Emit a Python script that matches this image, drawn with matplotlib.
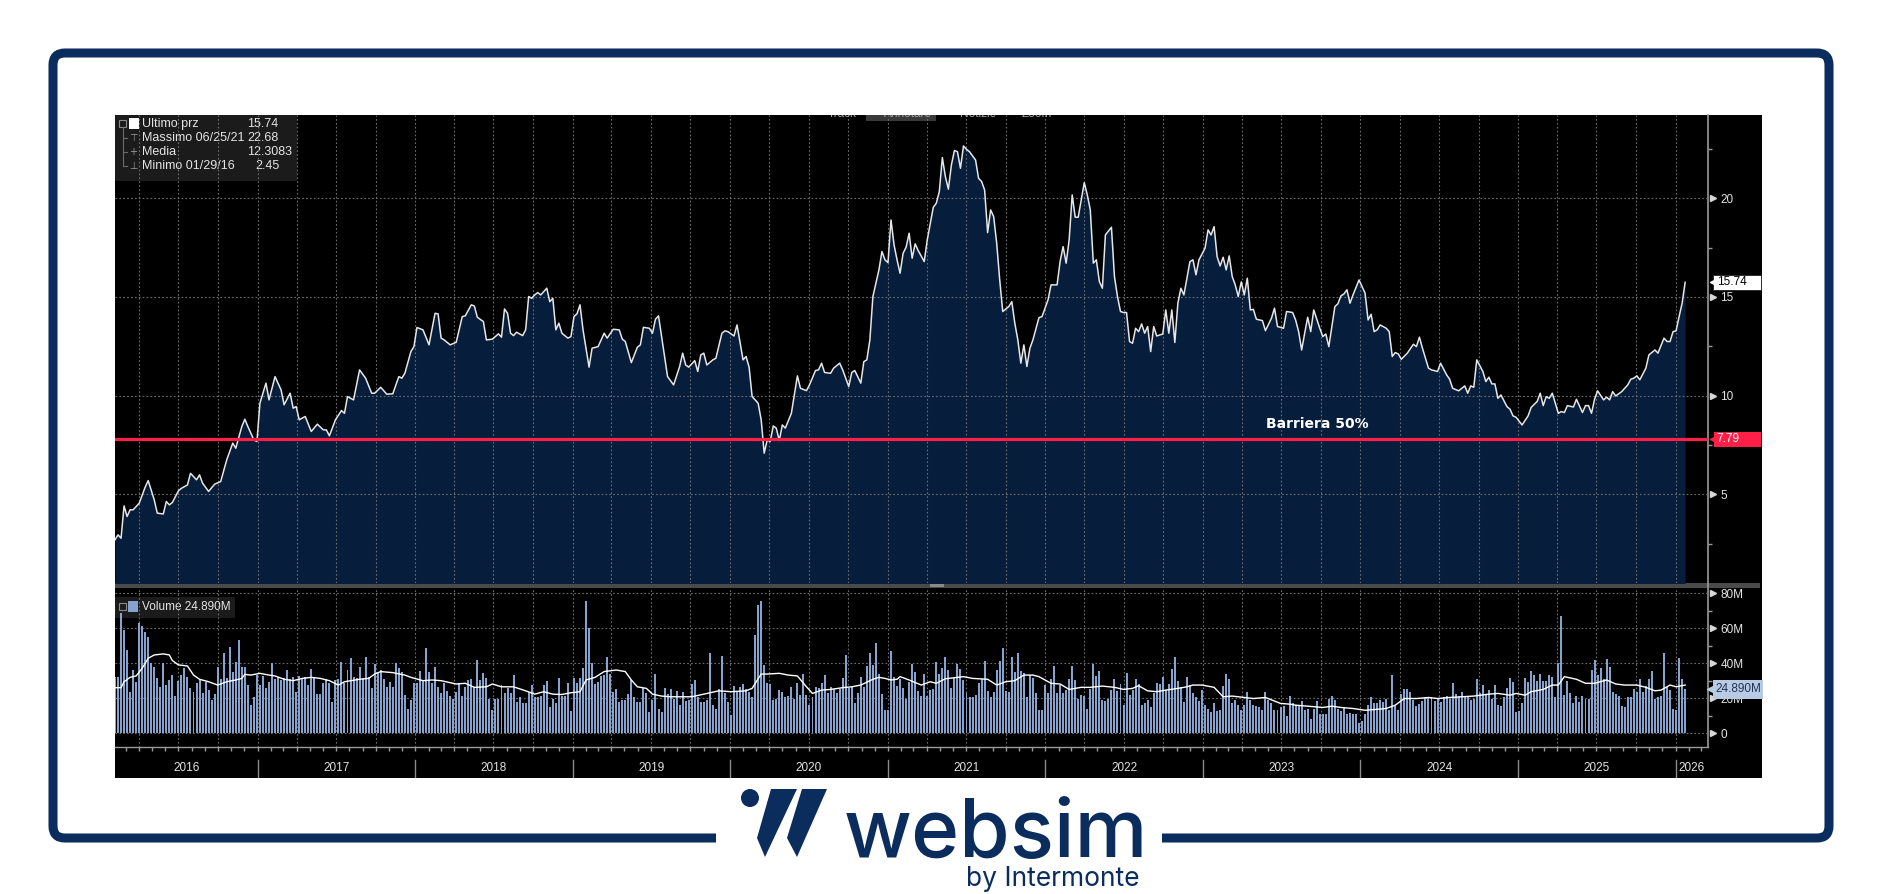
import numpy as np
import pandas as pd
import matplotlib
matplotlib.use("Agg")
import matplotlib.pyplot as plt
from matplotlib.patches import Rectangle, FancyBboxPatch, Polygon, Circle
from matplotlib.transforms import blended_transform_factory

plt.rcParams["font.family"] = ["Liberation Sans", "DejaVu Sans"]

START = pd.Timestamp("2016-02-05")   # weekly series, week 0

# price (weekly close): week index -> price
price_week = [0, 1, 2, 3, 4, 5, 6, 8, 10, 11, 13, 14, 16, 17, 18, 19, 21, 22, 24, 25, 27, 28, 29, 31, 33, 35, 37, 39, 40, 42,
              43, 44, 46, 47, 48, 50, 51, 53, 55, 56, 58, 59, 60, 61, 63, 65, 67, 69, 70, 71, 73, 75, 76, 77, 79, 81, 83, 85, 86, 88,
              90, 92, 94, 95, 96, 98, 99, 100, 102, 104, 106, 107, 108, 109, 111, 113, 115, 116, 118, 119, 120, 122, 123, 125, 127, 128, 129, 130, 131, 132,
              133, 135, 136, 137, 138,
              139, 140, 141, 143, 144, 145, 146, 147, 148, 150, 151, 152, 153, 154, 155, 157, 158, 160, 162, 163, 165, 167, 168, 169, 171, 173, 174, 175, 177, 178,
              179, 180, 183, 185, 187, 188, 189, 190, 192, 193, 194, 195, 196, 198, 199, 201, 202, 203, 205, 206, 208, 209, 210, 211, 213, 214, 215, 216, 217, 218,
              219, 220, 221, 222, 224, 226, 227, 229, 230, 232, 233, 234, 235, 237, 238, 240, 241, 243, 244, 245, 247, 248, 249, 250, 251, 253, 254, 255, 256, 257,
              258, 259, 260, 261, 262, 263, 264, 265, 266, 268, 269,
              271, 272, 273, 274, 275, 276, 277, 278, 279, 280, 281, 282, 283, 285, 286, 287, 288, 289, 290, 291, 292, 293, 294, 296, 297, 298, 299, 300, 301, 302,
              303, 304, 306, 307, 309, 310, 312, 313, 314, 315, 316, 317, 318, 319, 321, 322, 323, 324, 325, 326, 327, 328, 330, 331, 332, 333, 334, 335, 336, 337,
              338, 339, 340, 341, 342, 343, 344, 345, 347, 348, 349, 350, 351, 352, 353, 354, 356, 357, 358, 359, 361, 362, 363, 364, 365, 366, 367, 368, 369, 370,
              371, 372, 373, 374, 375, 376, 377, 378, 380, 381, 383, 384, 385, 387, 388, 390, 391, 392, 393, 394, 395, 396, 397, 399, 400, 401, 402, 404, 405, 406,
              407, 408, 409,
              410, 412, 414, 415, 416, 417, 418, 419, 421, 422, 423, 424, 425, 426, 428, 430, 431, 432, 433, 435, 436, 438, 439, 441, 442, 443, 445, 447, 448, 449,
              450, 451, 453, 454, 455, 456, 457, 458, 459, 461, 462, 463, 464, 466, 468, 469, 471, 472, 473, 474, 475, 476, 478, 479, 480, 481, 483, 484, 486, 487,
              488, 489, 490, 491, 493, 494, 495, 496, 497, 499, 501, 502, 503, 504, 505, 507, 508, 510, 511, 513, 514, 515, 516, 517, 518, 519, 520]
price_val = [2.69, 2.94, 2.77, 4.41, 3.87, 4.21, 4.21, 4.54, 5.36, 5.69, 4.71, 4.04, 4.00, 4.63, 4.46, 4.58, 5.17, 5.30, 5.47, 6.06, 5.73, 5.98, 5.56, 5.14, 5.51, 5.64, 6.74, 7.59, 7.33, 8.43,
             8.80, 8.43, 7.75, 7.67, 9.61, 10.63, 9.78, 10.96, 10.29, 9.53, 10.12, 9.36, 9.44, 8.77, 8.94, 8.18, 8.55, 8.26, 8.26, 7.96, 8.77, 9.24, 9.10, 9.95, 9.78, 11.30, 10.88, 10.12, 10.12, 10.42,
             10.07, 10.09, 10.96, 10.88, 11.13, 12.23, 12.48, 13.45, 13.33, 12.57, 14.17, 14.14, 12.91, 12.82, 12.57, 12.70, 14.00, 14.04, 14.60, 14.54, 13.97, 13.75, 12.82, 12.86, 13.13, 12.96, 14.39, 14.17, 13.16, 13.04,
             13.21, 13.04, 13.33, 15.02, 14.93,
             15.10, 15.22, 15.10, 15.44, 14.76, 14.93, 13.33, 13.67, 13.16, 12.91, 12.99, 14.00, 14.14, 14.60, 13.33, 11.44, 12.40, 12.48, 13.16, 12.91, 13.36, 13.33, 12.86, 12.74, 11.67, 12.45, 12.57, 13.46, 13.41, 13.16,
             13.87, 14.04, 10.96, 10.54, 11.47, 12.15, 11.55, 11.44, 11.77, 11.22, 12.06, 12.15, 11.55, 11.81, 11.89, 13.16, 13.28, 13.24, 13.02, 13.58, 11.81, 11.98, 11.44, 9.95, 9.61, 8.77, 7.08, 7.75, 7.67, 8.46,
             8.35, 7.72, 8.51, 8.35, 9.10, 11.00, 10.37, 10.25, 10.54, 11.27, 11.30, 11.64, 11.17, 11.13, 11.39, 11.64, 11.30, 10.46, 11.17, 11.27, 10.63, 11.72, 11.81, 12.82, 15.02, 16.37, 17.30, 16.88, 16.74, 18.90,
             17.64, 16.88, 16.20, 17.21, 17.52, 18.23, 16.96, 17.69, 17.35, 16.79, 17.89,
             19.54, 19.75, 20.34, 22.06, 21.10, 20.46, 21.69, 22.42, 22.36, 21.52, 22.65, 22.48, 22.36, 21.94, 21.01, 20.85, 20.42, 18.26, 19.41, 19.07, 17.72, 15.86, 14.26, 14.51, 14.76, 13.67, 12.82, 11.64, 12.57, 11.47,
             12.40, 12.82, 13.95, 14.00, 14.85, 15.61, 15.61, 16.79, 17.55, 16.71, 17.89, 20.17, 19.04, 19.04, 20.79, 20.17, 19.41, 16.71, 16.88, 15.78, 15.44, 18.14, 18.53, 16.03, 15.02, 14.26, 14.21, 14.21, 12.74, 12.65,
             13.41, 13.24, 13.63, 13.16, 13.50, 12.23, 13.50, 13.02, 13.12, 14.34, 13.16, 14.34, 12.69, 14.68, 15.44, 15.10, 16.79, 16.88, 16.12, 16.88, 17.47, 18.40, 18.14, 18.56, 17.04, 16.57, 17.01, 16.37, 17.08, 16.03,
             15.61, 15.02, 15.76, 15.10, 15.95, 14.34, 14.37, 13.87, 13.80, 13.29, 13.92, 14.43, 13.50, 13.41, 14.26, 14.21, 13.83, 13.24, 12.31, 13.16, 13.97, 13.24, 14.34, 13.41, 12.99, 13.12, 12.48, 14.51, 14.65, 15.05,
             15.15, 15.36, 14.68,
             15.10, 15.86, 15.19, 13.83, 14.12, 13.24, 13.33, 13.58, 13.41, 13.24, 11.98, 12.18, 12.11, 11.84, 12.15, 12.60, 12.48, 12.96, 12.40, 11.39, 11.30, 11.22, 11.64, 11.05, 10.83, 10.37, 10.24, 10.49, 10.12, 10.49,
             10.42, 11.81, 11.22, 10.71, 10.93, 10.59, 10.59, 9.86, 10.03, 9.44, 9.31, 8.97, 8.90, 8.51, 8.97, 9.40, 9.70, 10.12, 9.49, 9.95, 9.86, 10.12, 9.10, 9.19, 9.14, 9.49, 9.42, 9.81, 9.14, 9.49,
             9.49, 9.10, 9.81, 10.24, 9.78, 9.92, 9.78, 10.20, 9.98, 10.20, 10.54, 10.83, 10.88, 11.00, 10.80, 11.39, 12.06, 12.31, 12.15, 12.91, 12.74, 12.74, 13.24, 13.28, 14.00, 14.68, 15.74]

# weekly volume (millions), one bar per week from week 0
volume_m = [31.8, 31.8, 68.6, 59.0, 47.5, 23.6, 36.0, 29.3, 62.8, 60.9,
            57.5, 54.6, 40.2, 37.5, 31.2, 26.4, 40.2, 27.4, 30.3, 33.1,
            21.1, 29.9, 33.1, 37.0, 31.8, 25.5, 23.6, 28.4, 30.3, 22.6,
            29.3, 24.5, 18.8, 22.2, 37.5, 30.7, 46.0, 31.2, 49.4, 35.1,
            40.8, 53.3, 37.5, 37.5, 27.4, 15.9, 20.7, 33.1, 27.4, 32.6,
            25.5, 29.3, 40.2, 30.7, 32.2, 30.3, 31.2, 36.0, 30.7, 31.8,
            23.6, 32.6, 30.7, 32.2, 27.4, 36.4, 31.2, 22.2, 22.2, 28.7,
            30.7, 28.7, 17.8, 30.3, 30.7, 40.8, 28.7, 36.0, 42.7, 32.2,
            31.2, 37.9, 31.2, 43.3, 32.2, 25.5, 39.5, 34.1, 36.0, 30.7,
            26.4, 29.3, 26.1, 40.2, 37.0, 35.1, 21.6, 14.0, 18.8, 28.4,
            28.4, 35.6, 30.3, 48.5, 35.1, 28.7, 37.5, 26.4, 22.6, 28.4,
            24.1, 21.1, 19.7, 23.6, 28.7, 21.1, 26.4, 30.3, 30.7, 26.4,
            41.8, 30.3, 34.5, 31.2, 19.7, 13.4, 19.7, 19.7, 27.4, 22.6,
            25.5, 22.6, 33.1, 17.8, 20.7, 16.9, 16.9, 23.6, 27.4, 20.3,
            20.3, 21.1, 27.4, 29.7, 14.6, 19.2, 17.2, 31.6, 21.1, 21.1,
            28.4, 12.6, 31.6, 28.7, 31.2, 37.0, 75.7, 60.0, 39.8, 27.8,
            29.3, 32.6, 33.1, 43.3, 33.7, 23.6, 24.9, 17.8, 18.8, 18.8,
            22.2, 30.3, 20.3, 17.8, 17.8, 25.5, 23.0, 12.1, 18.8, 33.7,
            14.0, 12.1, 25.5, 22.2, 24.9, 19.7, 24.1, 15.9, 23.6, 18.4,
            18.8, 28.0, 30.3, 20.7, 17.8, 17.8, 18.8, 46.0, 15.9, 14.0,
            24.9, 44.1, 23.0, 17.8, 10.2, 26.8, 23.6, 26.1, 28.0, 24.9,
            23.6, 20.7, 56.1, 73.4, 75.7, 38.9, 28.4, 27.8, 18.8, 19.7,
            24.5, 23.6, 20.7, 21.1, 26.1, 19.2, 28.4, 21.6, 33.7, 21.6,
            15.9, 20.3, 26.4, 25.5, 28.4, 33.1, 23.0, 26.4, 24.9, 23.0,
            24.9, 31.2, 44.6, 25.5, 26.4, 17.2, 23.0, 31.8, 26.4, 38.3,
            45.6, 38.9, 51.7, 33.7, 22.2, 13.4, 13.4, 46.9, 31.8, 26.8,
            30.7, 25.5, 19.7, 29.3, 39.5, 35.1, 24.1, 21.1, 33.7, 21.1,
            24.5, 24.9, 40.8, 33.7, 37.0, 43.3, 36.0, 25.5, 31.2, 39.5,
            36.4, 30.3, 22.6, 20.7, 20.3, 21.6, 28.4, 30.7, 41.4, 24.1,
            20.7, 23.6, 36.0, 41.4, 48.5, 24.1, 23.6, 43.7, 34.7, 45.6,
            35.6, 34.1, 20.7, 33.1, 31.2, 22.6, 13.0, 13.0, 27.4, 23.0,
            30.7, 38.3, 22.6, 27.4, 23.0, 24.5, 30.7, 38.3, 30.3, 19.7,
            21.6, 21.1, 14.0, 24.9, 39.5, 32.6, 35.6, 18.8, 18.4, 19.7,
            24.5, 30.7, 24.1, 28.0, 15.9, 34.5, 21.6, 24.5, 30.7, 28.0,
            15.9, 16.9, 18.8, 14.9, 22.6, 28.7, 28.0, 31.8, 24.5, 28.0,
            36.4, 43.3, 29.9, 26.1, 17.8, 31.8, 27.4, 22.6, 20.7, 18.4,
            24.5, 15.9, 14.0, 12.1, 16.9, 12.6, 13.4, 26.8, 33.7, 30.7,
            16.9, 18.8, 15.9, 13.0, 15.9, 23.6, 18.8, 15.9, 15.3, 14.6,
            13.0, 23.6, 18.8, 16.9, 13.0, 13.0, 14.9, 15.3, 9.6, 21.1,
            16.9,
            15.9, 15.9, 18.2, 13.0, 14.0, 7.9, 14.0, 18.2, 11.1, 11.1,
            11.1, 19.3, 21.1, 18.8, 14.0, 12.6, 14.9, 11.1, 11.5, 11.1,
            11.1, 5.7, 6.9, 10.7, 15.9, 20.3, 16.9, 17.2, 18.8, 17.8,
            19.2, 13.4, 33.1, 15.9, 13.4, 22.2, 25.3, 25.3, 23.6, 18.8,
            15.3, 16.5, 18.4, 20.7, 20.7, 20.7, 18.4, 19.2, 17.8, 20.3,
            21.1, 19.7, 28.4, 22.2, 21.1, 23.6, 21.1, 20.7, 18.8, 19.2,
            30.7, 22.6, 27.4, 22.2, 24.5, 19.2, 27.4, 15.9, 15.3, 20.7,
            25.5, 31.2, 29.3, 12.1, 12.6, 16.9, 31.2, 29.3, 35.6, 33.1,
            29.9, 33.7, 29.9, 29.9, 33.1, 31.8, 20.7, 39.8, 67.0, 21.6,
            29.9, 22.6, 16.9, 21.1, 17.8, 21.1, 19.7, 19.2, 36.0, 41.8,
            33.1, 37.0, 30.7, 42.1, 37.5, 23.6, 22.2, 21.1, 15.3, 14.9,
            20.3, 20.3, 24.9, 23.6, 30.7, 23.6, 26.8, 30.7, 35.6, 19.2,
            20.3, 21.1, 46.0, 26.4, 24.5, 14.0, 13.0, 42.7, 30.7, 24.89]

# volume moving average (white line)
ma_week = [0, 2, 3, 5, 7, 9, 11, 13, 16, 18, 19, 21, 24, 26, 28, 31, 34, 37, 40, 42, 43, 45, 48, 51, 53, 56, 59, 62, 65, 68,
           71, 74, 76, 81, 84, 86, 88, 92, 96, 98, 102, 105, 108, 113, 116, 119, 123, 125, 128,
           129, 132, 136, 139, 142, 145, 148, 151, 154, 156, 159, 162, 166, 169, 171, 173, 176, 178, 181, 184, 188, 191, 195, 200, 204,
           209, 211, 214, 216, 220, 223, 226, 229, 231, 234, 237, 241, 244, 247, 251, 253, 255, 257, 259,
           260, 263, 267, 270, 272, 275, 279, 281, 284, 289, 292, 295, 298, 301, 304, 306, 310, 313, 316, 320, 323, 327, 331, 334, 337,
           339, 342, 345, 348, 352, 355, 357, 360, 364, 367, 370, 374, 377, 381, 386, 389,
           391, 395, 400, 403, 406, 410, 414, 417, 421, 424, 427, 431, 435, 438, 442, 446, 450, 455, 458, 462, 464, 467, 469, 473, 476,
           478, 480, 484, 487, 490, 494, 497, 500, 504, 507, 510, 512, 515, 517, 520]
ma_val = [25.9, 25.9, 29.3, 31.8, 32.6, 37.0, 42.7, 44.6, 45.2, 44.6, 41.4, 38.9, 38.3, 33.1, 30.7, 29.3, 27.4, 29.3, 30.3, 31.2,
          33.5, 33.1, 34.1, 33.1, 32.6, 30.7, 29.9, 31.2, 31.8, 31.2, 29.9, 27.4, 29.3, 30.7, 31.2, 33.7, 35.1, 34.5, 33.1, 31.8,
          29.9, 30.3, 29.9, 28.0, 28.4, 26.1, 26.4, 28.0, 26.4,
          26.4, 26.4, 24.1, 22.2, 23.6, 22.2, 22.0, 23.0, 23.6, 30.3, 31.8, 35.1, 36.0, 35.1, 30.3, 26.4, 25.5, 22.2, 21.1, 20.7,
          20.7, 20.7, 22.2, 24.1, 23.6, 24.1, 25.5, 33.7, 33.7, 34.1, 33.1, 32.6, 26.4, 22.6, 24.5, 24.9, 25.9, 26.4, 27.4, 30.7,
          31.8, 31.2, 30.3, 30.7,
          32.2, 30.3, 27.4, 29.3, 28.4, 31.0, 31.8, 32.2, 31.2, 30.7, 27.4, 29.3, 29.9, 33.1, 33.1, 32.2, 28.4, 28.0, 24.9, 26.1,
          26.1, 26.8, 26.1, 24.9, 25.5, 27.0, 24.1, 23.6, 24.5, 25.5, 26.4, 27.4, 27.4, 26.1, 20.7, 21.1, 20.3, 19.7, 20.3, 16.9,
          16.5,
          15.9, 15.3, 14.6, 15.3, 14.6, 14.0, 13.0, 13.4, 14.0, 15.9, 19.7, 19.7, 20.3, 19.7, 20.3, 20.7, 21.1, 22.2, 22.6, 21.6,
          22.6, 21.6, 23.6, 24.9, 27.4, 27.4, 32.2, 30.7, 28.4, 28.4, 30.3, 28.0, 27.4, 27.4, 26.1, 24.1, 24.5, 27.4, 26.4, 27.4]

years = list(range(2016, 2027))
price_ticks = [5, 10, 15, 20]
price_minor = [2.5, 7.5, 12.5, 17.5, 22.5]
vol_ticks = [0, 20, 40, 60, 80]
vol_labels = ["0", "20M", "40M", "60M", "80M"]
vol_minor = [10, 30, 50, 70]
barrier = 7.79
last_price = 15.74
last_volume = 24.890
legend_rows = [("Ultimo prz", "15.74"), ("Massimo 06/25/21", "22.68"),
               ("Media", "12.3083"), ("Minimo 01/29/16", "2.45")]
toolbar = [("Track", 828), ("Annotare", 884), ("Notizie", 960), ("Zoom", 1022)]

NAVY = "#0b2d5d"
FILL = "#061d3b"
RED = "#ff1f47"
GRID = "#6e6e6e"
BAR = "#86a2cf"
AXC = "#9a9a9a"
TXT = "#e4e4e4"

W, H = 1881, 894


def frect(x0, y0, x1, y1):
    return [x0 / W, 1 - y1 / H, (x1 - x0) / W, (y1 - y0) / H]


p_dates = START + pd.to_timedelta(np.array(price_week) * 7, unit="D")
v_dates = START + pd.to_timedelta(np.arange(len(volume_m)) * 7, unit="D")
m_dates = START + pd.to_timedelta(np.array(ma_week) * 7, unit="D")
x_left = START
x_right = v_dates[-1] + pd.Timedelta(days=53)
quarters = pd.date_range("2016-04-01", x_right, freq="QS")
months = pd.date_range("2016-03-01", x_right, freq="MS")

fig = plt.figure(figsize=(W / 100, H / 100), dpi=100, facecolor="white")

# background layer in pixel units
bg = fig.add_axes([0, 0, 1, 1], zorder=0)
bg.set_xlim(0, W)
bg.set_ylim(H, 0)
bg.axis("off")
bg.add_patch(FancyBboxPatch((53, 53), 1776, 785, boxstyle="round,pad=0,rounding_size=12",
                            lw=6.5, ec=NAVY, fc="none"))
bg.add_patch(Rectangle((716, 826), 446, 24, fc="white", ec="none", zorder=3))
bg.add_patch(Rectangle((115, 115), 1647, 663, fc="black", ec="none", zorder=1))
bg.add_patch(Rectangle((115, 583), 1645, 5, fc="#4a4a4a", ec="none", zorder=2))
bg.add_patch(Rectangle((930, 584), 14, 3, fc="#8a8a8a", ec="none", zorder=2))
bg.add_patch(Rectangle((866, 115), 70, 6, fc="#3a3a3a", ec="none", zorder=2))
bg.plot([1708, 1708], [115, 747], color=AXC, lw=1.2, zorder=2)
bg.plot([115, 1708], [747, 747], color=AXC, lw=1.0, zorder=2)

# price legend box
bg.add_patch(Rectangle((115, 115), 182, 66, fc="#1b1b1b", ec="none", zorder=2))
bg.add_patch(Rectangle((119, 120), 7, 7, fc="none", ec="#8a8a8a", lw=0.8, zorder=3))
bg.add_patch(Rectangle((129, 118), 10, 11, fc="white", ec="none", zorder=3))
bg.plot([122.5, 122.5], [127, 166], color="#6a6a6a", lw=0.8, zorder=3)
for yy, glyph in zip([138, 152, 166], ["⊤", "+", "⊥"]):
    bg.plot([122.5, 127], [yy, yy], color="#6a6a6a", lw=0.8, zorder=3)
    bg.text(133, yy, glyph, color="#9a9a9a", fontsize=7, ha="center", va="center",
            family="DejaVu Sans", zorder=3)
for i, (name, val) in enumerate(legend_rows):
    yy = 124 + 14 * i
    bg.text(142, yy, name, color=TXT, fontsize=9, va="center", zorder=4)
    bg.text(255 if val == "2.45" else 247, yy, val, color=TXT, fontsize=9, va="center", zorder=4)

# volume legend box
bg.add_patch(Rectangle((115, 597), 120, 21, fc="#1b1b1b", ec="none", zorder=2))
bg.add_patch(Rectangle((119, 603), 7, 7, fc="none", ec="#8a8a8a", lw=0.8, zorder=3))
bg.add_patch(Rectangle((128, 601), 10, 11, fc=BAR, ec="none", zorder=3))
bg.text(142, 607, f"Volume {last_volume:.3f}M", color=TXT, fontsize=8.5, va="center", zorder=4)

# logo
bg.add_patch(Circle((750, 798), 9, fc=NAVY, ec="none", zorder=4))
bg.add_patch(Polygon([(771, 789), (797, 789), (765, 857), (757, 838)], closed=True, fc=NAVY, ec="none", zorder=4))
bg.add_patch(Polygon([(802, 789), (827, 789), (797, 857), (787, 838)], closed=True, fc=NAVY, ec="none", zorder=4))
bg.text(844, 857, "websim", color=NAVY, fontsize=59, family="Inter", fontweight="medium",
        ha="left", va="baseline", zorder=4)
bg.text(1140, 886, "by Intermonte", color=NAVY, fontsize=19, family="Inter",
        ha="right", va="baseline", zorder=4)

# ---- price panel
ax = fig.add_axes(frect(115, 115, 1708, 583), zorder=2)
ax.set_facecolor("none")
ax.set_xlim(x_left, x_right)
ax.set_ylim(0.5, 24.22)
for s in ax.spines.values():
    s.set_visible(False)
ax.fill_between(p_dates, price_val, 0, color=FILL, lw=0, zorder=1)
for q in quarters:
    ax.axvline(q, color=GRID, lw=0.8, ls=(0, (1.5, 2)), zorder=2)
for t in price_ticks:
    ax.axhline(t, color=GRID, lw=0.8, ls=(0, (1.5, 2)), zorder=2)
ax.plot(p_dates, price_val, color="#e6e6e6", lw=1.1, zorder=3)
ax.axhline(barrier, color=RED, lw=2.3, zorder=4)
ax.set_xticks([])
ax.yaxis.tick_right()
ax.set_yticks(price_ticks)
ax.set_yticks(price_minor, minor=True)
ax.set_yticklabels([str(t) for t in price_ticks])
ax.tick_params(axis="y", which="major", length=0, pad=9, labelcolor=TXT, labelsize=8.5)
ax.tick_params(axis="y", which="minor", length=3, color=AXC, width=1)
tr = blended_transform_factory(ax.transAxes, ax.transData)
ax.plot([1.003] * len(price_ticks), price_ticks, ls="none", marker=">", ms=4.5,
        color="#d8d8d8", transform=tr, clip_on=False, zorder=5)

ax.add_patch(Rectangle((1.003, last_price - 0.38), 0.0305, 0.76, transform=tr, clip_on=False,
                       fc="white", ec="#202020", lw=0.6, zorder=5))
ax.plot([1.003], [last_price], marker="<", ms=5, color="white", transform=tr, clip_on=False, zorder=6)
ax.text(1.0055, last_price, f"{last_price:.2f}", transform=tr, color="black", fontsize=8.5,
        ha="left", va="center", clip_on=False, zorder=7)

ax.add_patch(Rectangle((1.0035, barrier - 0.38), 0.03, 0.76, transform=tr, clip_on=False,
                       fc=RED, ec="none", zorder=5))
ax.plot([1.003], [barrier], marker="<", ms=5, color=RED, transform=tr, clip_on=False, zorder=6)
ax.text(1.0055, barrier, f"{barrier:.2f}", transform=tr, color="white", fontsize=8.5,
        ha="left", va="center", clip_on=False, zorder=7)

ax.text(0.7546, 8.56, "Barriera 50%", transform=tr, color="white", fontsize=10,
        fontweight="bold", family="DejaVu Sans", ha="center", va="center", zorder=6)

for label, px in toolbar:
    t = ax.text((px - 115) / 1593, 1.003, label, transform=ax.transAxes, color="#a0a0a0",
                fontsize=8.5, ha="left", va="center", zorder=6)
    t.set_clip_on(True)

# ---- volume panel
av = fig.add_axes(frect(115, 588, 1708, 747), zorder=2)
av.set_facecolor("none")
av.set_xlim(x_left, x_right)
av.set_ylim(-8, 82.86)
for s in av.spines.values():
    s.set_visible(False)
for q in quarters:
    av.axvline(q, color=GRID, lw=0.8, ls=(0, (1.5, 2)), zorder=0.5)
for t in vol_ticks:
    av.axhline(t, color=GRID, lw=0.8, ls=(0, (1.5, 2)), zorder=0.5)
av.bar(v_dates, volume_m, width=4.6, color=BAR, lw=0, zorder=1)
av.plot(m_dates, ma_val, color="white", lw=1.0, zorder=3)
av.set_xticks(months)
av.tick_params(axis="x", length=3, color=AXC, width=1, labelbottom=False, direction="out")
av.yaxis.tick_right()
av.set_yticks(vol_ticks)
av.set_yticklabels(vol_labels)
av.set_yticks(vol_minor, minor=True)
av.tick_params(axis="y", which="major", length=0, pad=9, labelcolor=TXT, labelsize=8.5)
av.tick_params(axis="y", which="minor", length=3, color=AXC, width=1)
trv = blended_transform_factory(av.transAxes, av.transData)
av.plot([1.003] * len(vol_ticks), vol_ticks, ls="none", marker=">", ms=4.5,
        color="#d8d8d8", transform=trv, clip_on=False, zorder=5)
av.add_patch(Rectangle((1.003, last_volume - 5.6), 0.0315, 11.2, transform=trv, clip_on=False,
                       fc="#b9cbe4", ec="none", zorder=5))
av.plot([1.002], [last_volume], marker="<", ms=6, color="#b9cbe4", transform=trv, clip_on=False, zorder=6)
av.text(1.0045, last_volume, f"{last_volume:.3f}M", transform=trv, color="#22344f", fontsize=8.5,
        ha="left", va="center", clip_on=False, zorder=7)

# ---- year band
ay = fig.add_axes(frect(115, 748, 1708, 778), zorder=2)
ay.set_facecolor("none")
ay.set_xlim(x_left, x_right)
ay.set_ylim(0, 1)
ay.axis("off")
for y in years:
    a = max(pd.Timestamp(f"{y}-01-01"), x_left)
    b = min(pd.Timestamp(f"{y + 1}-01-01"), x_right)
    if y > years[0]:
        ay.axvline(pd.Timestamp(f"{y}-01-01"), ymin=0.03, ymax=0.6, color="#8a8a8a", lw=1)
    ay.text(a + (b - a) / 2, 0.33, str(y), color=TXT, fontsize=8.5, ha="center", va="center")

fig.savefig("out.png", dpi=100, facecolor="white")
